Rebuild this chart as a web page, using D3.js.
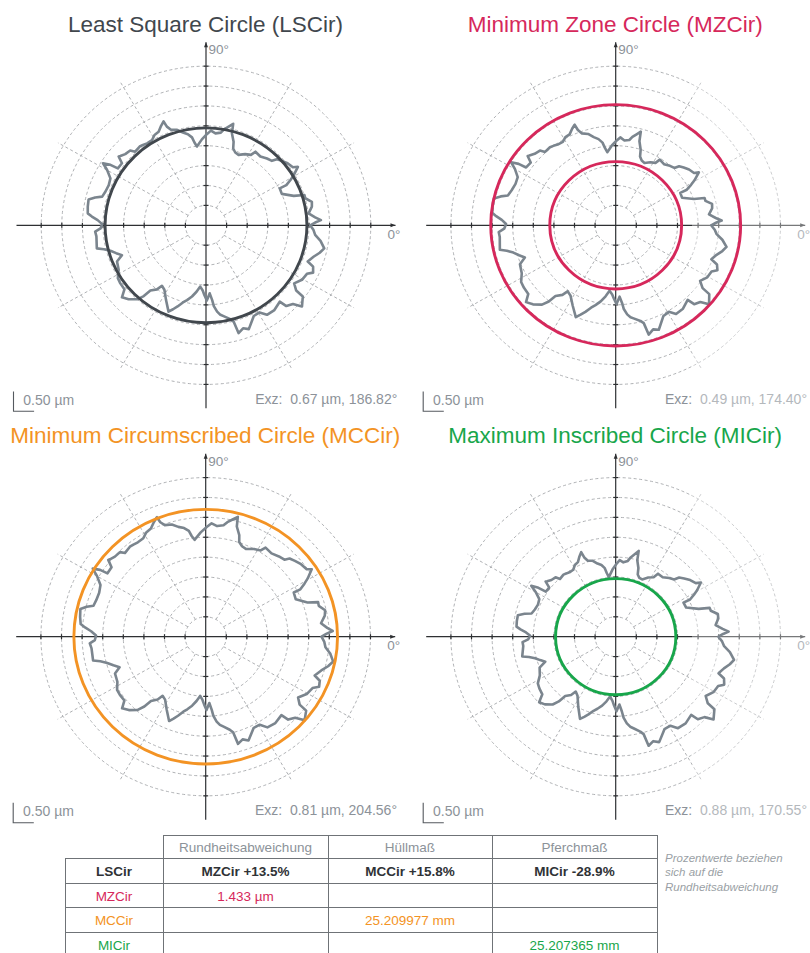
<!DOCTYPE html>
<html>
<head>
<meta charset="utf-8">
<script src="https://cdn.jsdelivr.net/npm/d3@7"></script>
<style>
  body { margin: 0; background: #fff; }
  text { font-family: "Liberation Sans", Arial, sans-serif; }
</style>
</head>
<body>
<svg id="chart" width="810" height="953"></svg>
<script>
// Measured roundness profile: trace points in µm (plot units), relative to the LSC centre.
const profileX = [2.53,2.65,2.79,2.65,2.49,2.57,2.57,2.41,2.39,2.13,
  1.84,1.79,1.95,2.05,2.13,2.23,2.11,1.98,1.84,1.72,
  1.60,1.48,1.32,1.20,1.09,0.95,0.79,0.71,0.66,0.67,
  0.63,0.66,0.55,0.44,0.36,0.23,0.12,0.02,-0.10,-0.22,
  -0.28,-0.34,-0.44,-0.56,-0.70,-0.85,-0.95,-1.03,-1.09,-1.15,
  -1.25,-1.31,-1.43,-1.53,-1.61,-1.72,-1.84,-1.96,-2.08,-2.12,
  -2.04,-2.14,-2.32,-2.50,-2.40,-2.32,-2.36,-2.44,-2.52,-2.69,
  -2.85,-2.87,-2.87,-2.77,-2.63,-2.52,-2.56,-2.69,-2.66,-2.65,
  -2.48,-2.32,-2.18,-2.04,-2.16,-2.12,-2.14,-2.08,-1.98,-2.04,
  -1.88,-1.67,-1.51,-1.35,-1.19,-1.07,-1.01,-0.97,-0.91,-0.80,
  -0.69,-0.56,-0.46,-0.34,-0.23,-0.14,-0.08,-0.04,0.02,0.09,
  0.15,0.19,0.27,0.35,0.44,0.59,0.67,0.79,0.90,1.04,
  1.16,1.30,1.48,1.66,1.79,1.95,2.11,2.33,2.35,2.19,
  2.14,2.33,2.45,2.60,2.60,2.47,2.61,2.76,2.87,2.78,
  2.65,2.61];
const profileY = [0.00,0.07,0.13,0.20,0.30,0.47,0.59,0.68,0.76,0.74,
  0.79,0.93,1.01,1.14,1.26,1.47,1.46,1.56,1.62,1.66,
  1.62,1.68,1.73,1.85,1.77,1.79,1.77,1.83,1.93,2.10,
  2.31,2.55,2.48,2.41,2.33,2.31,2.38,2.29,2.16,1.98,
  2.08,2.21,2.29,2.33,2.40,2.40,2.48,2.61,2.50,2.35,
  2.27,2.14,2.06,2.02,1.98,1.85,1.88,1.79,1.74,1.73,
  1.56,1.43,1.52,1.56,1.39,1.18,1.01,0.85,0.72,0.70,
  0.65,0.47,0.30,0.22,0.13,0.03,-0.08,-0.16,-0.28,-0.58,
  -0.60,-0.64,-0.70,-0.75,-0.91,-1.12,-1.33,-1.46,-1.61,-1.81,
  -1.86,-1.86,-1.78,-1.64,-1.61,-1.52,-1.62,-1.88,-2.17,-2.11,
  -2.04,-1.94,-1.88,-1.79,-1.67,-1.54,-1.64,-1.75,-1.89,-1.71,
  -1.88,-2.03,-2.17,-2.25,-2.29,-2.36,-2.42,-2.71,-2.59,-2.61,
  -2.28,-2.19,-2.25,-2.13,-1.92,-2.03,-1.98,-2.04,-1.79,-1.64,
  -1.46,-1.37,-1.22,-1.19,-1.04,-0.91,-0.79,-0.69,-0.58,-0.39,
  -0.24,-0.12];

// One panel per reference element
const panelTitles = ["Least Square Circle (LSCir)", "Minimum Zone Circle (MZCir)",
  "Minimum Circumscribed Circle (MCCir)", "Maximum Inscribed Circle (MICir)"];
const panelColors = ["#41474d", "#d6285b", "#f39324", "#18a64b"];
const exzValues = [0.67, 0.49, 0.81, 0.88];            // eccentricity, µm
const exzAngles = [186.82, 174.40, 204.56, 170.55];    // eccentricity direction, degrees
const referenceRadii = [[2.45], [1.60, 3.033], [3.20], [1.46]]; // plotted circle radius, µm
const profileOffset = [0, -0.035, 0.21, -0.24];        // radial zero of the profile, µm
const ringValues = [0.5, 1.0, 1.5, 2.0, 2.5, 3.0, 3.5, 4.0];
const spokeAngles = [30, 60, 120, 150, 210, 240, 300, 330];
const scaleBarLabel = "0.50 µm";

// Result table
const tableHeader = ["", "Rundheitsabweichung", "Hüllmaß", "Pferchmaß"];
const tableRows = [
  ["LSCir", "MZCir +13.5%", "MCCir +15.8%", "MICir -28.9%"],
  ["MZCir", "1.433 µm", "", ""],
  ["MCCir", "", "25.209977 mm", ""],
  ["MICir", "", "", "25.207365 mm"]
];
const tableNote = ["Prozentwerte beziehen", "sich auf die", "Rundheitsabweichung"];

const svg = d3.select("#chart");
const grey = "#8c9299";
const profileColor = "#7b858e";

// layers: grid and labels, a soft wash, then the measured marks
const gridLayer = svg.append("g");
const hazeLayer = svg.append("g");
const markLayer = svg.append("g");

const centres = [[206, 225.3], [615.7, 225.3], [205.7, 636.7], [615.7, 636.7]];
const axisMax = 4.6;

const rad = a => a * Math.PI / 180;
const exzVec = exzValues.map((e, i) => [e * Math.cos(rad(exzAngles[i])), e * Math.sin(rad(exzAngles[i]))]);

panelTitles.forEach((title, p) => {
  const [cx, cy] = centres[p];
  const x = d3.scaleLinear().domain([-axisMax, axisMax]).range([cx - 189.5, cx + 189.5]);
  const y = d3.scaleLinear().domain([-axisMax, axisMax]).range([cy + 183, cy - 183]);
  const rx = r => x(r) - x(0);
  const ry = r => y(0) - y(r);
  const g = gridLayer.append("g");
  const m = markLayer.append("g");

  // dashed rings
  g.selectAll("ellipse.ring").data(ringValues).join("ellipse")
    .attr("cx", x(0)).attr("cy", y(0))
    .attr("rx", d => rx(d)).attr("ry", d => ry(d))
    .attr("fill", "none").attr("stroke", "#a6a8ab")
    .attr("stroke-width", 0.9).attr("stroke-dasharray", "3,2.5");

  // dashed spokes
  g.selectAll("line.spoke").data(spokeAngles).join("line")
    .attr("x1", d => x(0.5 * Math.cos(rad(d)))).attr("y1", d => y(0.5 * Math.sin(rad(d))))
    .attr("x2", d => x(4.15 * Math.cos(rad(d)))).attr("y2", d => y(4.15 * Math.sin(rad(d))))
    .attr("stroke", "#a6a8ab").attr("stroke-width", 0.9).attr("stroke-dasharray", "3,2.5");

  // axes
  const axisColor = "#2e3033";
  g.append("line").attr("x1", x(-axisMax)).attr("x2", x(axisMax)).attr("y1", y(0)).attr("y2", y(0))
    .attr("stroke", axisColor).attr("stroke-width", 1.2);
  g.append("line").attr("x1", x(0)).attr("x2", x(0)).attr("y1", y(-axisMax)).attr("y2", y(axisMax))
    .attr("stroke", axisColor).attr("stroke-width", 1.2);
  g.append("path")
    .attr("d", `M${x(axisMax)},${y(0)} l-5,-2 l0,4 z`).attr("fill", axisColor);
  g.append("path")
    .attr("d", `M${x(0)},${y(axisMax)} l-2,5 l4,0 z`).attr("fill", axisColor);
  const tickVals = ringValues.flatMap(v => [v, -v]);
  g.selectAll("line.tx").data(tickVals).join("line")
    .attr("x1", d => x(d)).attr("x2", d => x(d)).attr("y1", y(0) - 2.5).attr("y2", y(0) + 2.5)
    .attr("stroke", axisColor).attr("stroke-width", 1.2);
  g.selectAll("line.ty").data(tickVals).join("line")
    .attr("y1", d => y(d)).attr("y2", d => y(d)).attr("x1", x(0) - 2.5).attr("x2", x(0) + 2.5)
    .attr("stroke", axisColor).attr("stroke-width", 1.2);

  g.append("text").attr("x", x(0) + 2.5).attr("y", cy - 171).text("90°")
    .attr("font-size", 13.5).attr("fill", grey);
  g.append("text").attr("x", cx + 181.5).attr("y", cy + 13.7).text("0°")
    .attr("font-size", 13.5).attr("fill", grey);

  // profile relative to this panel's reference centre
  const d = [exzVec[p][0] - exzVec[0][0], exzVec[p][1] - exzVec[0][1]];
  const pts = profileX.map((px, i) => {
    const py = profileY[i];
    const th = Math.atan2(py, px);
    const r = Math.hypot(px, py) + profileOffset[p] - (d[0] * Math.cos(th) + d[1] * Math.sin(th));
    return [x(r * Math.cos(th)), y(r * Math.sin(th))];
  });
  m.append("path").attr("d", d3.line().curve(d3.curveLinearClosed)(pts))
    .attr("fill", "none").attr("stroke", profileColor).attr("stroke-width", 2.6)
    .attr("stroke-linejoin", "round");

  // reference circle(s)
  m.selectAll("ellipse.ref").data(referenceRadii[p]).join("ellipse")
    .attr("cx", x(0)).attr("cy", y(0))
    .attr("rx", r => rx(r)).attr("ry", r => ry(r))
    .attr("fill", "none").attr("stroke", panelColors[p]).attr("stroke-width", 2.9);

  // title
  g.append("text").attr("x", cx - 0.5).attr("y", cy - 193.6).attr("text-anchor", "middle")
    .attr("font-size", 22.5).attr("fill", panelColors[p]).text(title);

  // scale bar (0.5 µm in both directions)
  const bx = cx - 192.5, by = cy + 186;
  g.append("path")
    .attr("d", `M${bx},${by - ry(0.5)} L${bx},${by} L${bx + rx(0.5)},${by}`)
    .attr("fill", "none").attr("stroke", "#555a5f").attr("stroke-width", 1.1);
  g.append("text").attr("x", cx - 182.7).attr("y", cy + 179.7).text(scaleBarLabel)
    .attr("font-size", 14).attr("fill", grey);

  // eccentricity label
  g.append("text").attr("x", cx + 191.3).attr("y", cy + 178.3).attr("text-anchor", "end")
    .attr("font-size", 14).attr("fill", grey).style("white-space", "pre")
    .text(`Exz:  ${exzValues[p].toFixed(2)} µm, ${exzAngles[p].toFixed(2)}°`);
});

// soft wash over the right edge of the right-hand panels
[[692, 80, 118, 345], [692, 492, 118, 340]].forEach(([hx, hy, hw, hh]) => {
  hazeLayer.append("rect").attr("x", hx).attr("y", hy).attr("width", hw).attr("height", hh)
    .attr("fill", "#fff").attr("opacity", 0.35);
});

// table
const colX = [65, 163, 328, 492, 657];
const rowY = [835, 858.5, 883, 907.5, 932, 956];
const lineColor = "#6f7377";
const tg = svg.append("g").attr("shape-rendering", "crispEdges");
tg.append("line").attr("x1", colX[1]).attr("x2", colX[4]).attr("y1", rowY[0]).attr("y2", rowY[0])
  .attr("stroke", lineColor);
rowY.slice(1, 5).forEach(yv => {
  tg.append("line").attr("x1", colX[0]).attr("x2", colX[4]).attr("y1", yv).attr("y2", yv)
    .attr("stroke", lineColor);
});
colX.forEach((xv, i) => {
  tg.append("line").attr("x1", xv).attr("x2", xv)
    .attr("y1", i === 0 ? rowY[1] : rowY[0]).attr("y2", 953)
    .attr("stroke", lineColor);
});
const colMid = i => (colX[i] + colX[i + 1]) / 2;
tableHeader.forEach((h, i) => {
  if (!h) return;
  svg.append("text").attr("x", colMid(i)).attr("y", rowY[0] + 17).attr("text-anchor", "middle")
    .attr("font-size", 13.5).attr("fill", grey).text(h);
});
const rowColors = ["#2f3236", panelColors[1], panelColors[2], panelColors[3]];
tableRows.forEach((row, r) => {
  row.forEach((cell, i) => {
    if (!cell) return;
    svg.append("text").attr("x", colMid(i)).attr("y", rowY[r + 1] + 17.5)
      .attr("text-anchor", "middle").attr("font-size", 13.5)
      .attr("font-weight", r === 0 ? "bold" : "normal")
      .attr("fill", rowColors[r]).text(cell);
  });
});
tableNote.forEach((t, i) => {
  svg.append("text").attr("x", 665).attr("y", 862 + i * 14.3).attr("font-size", 11.5)
    .attr("font-style", "italic").attr("fill", "#9a9fa5").text(t);
});
</script>
</body>
</html>
